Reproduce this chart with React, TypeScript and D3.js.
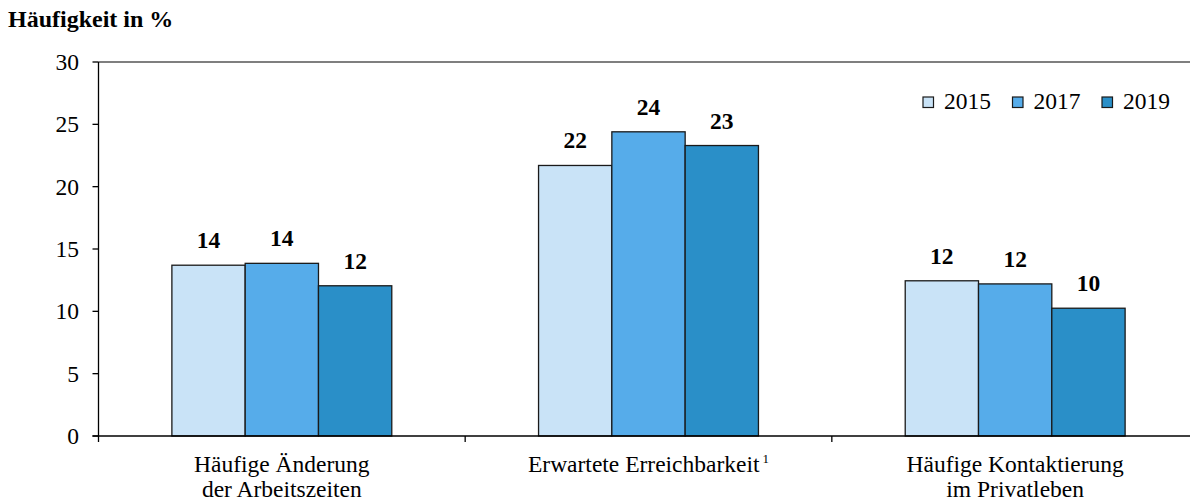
import React from "react";
import * as d3 from "d3";

const categories = [
  ["Häufige Änderung", "der Arbeitszeiten"],
  ["Erwartete Erreichbarkeit", ""],
  ["Häufige Kontaktierung", "im Privatleben"],
];
const years = ["2015", "2017", "2019"];
const values2015 = [13.7, 21.7, 12.45];
const values2017 = [13.85, 24.4, 12.2];
const values2019 = [12.05, 23.3, 10.25];
const labels2015 = ["14", "22", "12"];
const labels2017 = ["14", "24", "12"];
const labels2019 = ["12", "23", "10"];
const yTicks = [0, 5, 10, 15, 20, 25, 30];
const colors = ["#C9E3F7", "#56ACEA", "#2A8FC8"];

const series = [
  { year: years[0], values: values2015, labels: labels2015 },
  { year: years[1], values: values2017, labels: labels2017 },
  { year: years[2], values: values2019, labels: labels2019 },
];

const FONT = "'Liberation Serif', 'Times New Roman', serif";

export default function App() {
  const width = 1190;
  const height = 502;
  const x0 = 98.5;
  const x1 = 1198.5;
  const yTop = 62;
  const yBottom = 436;

  const y = d3.scaleLinear().domain([0, 30]).range([yBottom, yTop]);
  const xBand = d3
    .scaleBand<number>()
    .domain(categories.map((_, i) => i))
    .range([x0, x1])
    .paddingInner(0)
    .paddingOuter(0);
  const bw = xBand.bandwidth();
  const barW = 73.3;
  const inner = d3
    .scaleBand<number>()
    .domain([0, 1, 2])
    .range([0, barW * 3]);

  return (
    <svg
      width={width}
      height={height}
      style={{ position: "absolute", left: 0, top: 0, fontFamily: FONT }}
    >
      <text x={8} y={27} fontSize={24} fontWeight="bold" fill="#000">
        Häufigkeit in %
      </text>
      {/* top gridline */}
      <line x1={x0} x2={width} y1={y(30)} y2={y(30)} stroke="#555" strokeWidth={1.6} />
      {/* bars */}
      {categories.map((_, ci) => {
        const gx = (xBand(ci) as number) + bw / 2 - (barW * 3) / 2;
        return series.map((s, si) => {
          const bx = gx + (inner(si) as number);
          const by = y(s.values[ci]);
          return (
            <g key={`${ci}-${si}`}>
              <rect
                x={bx}
                y={by}
                width={barW}
                height={yBottom - by}
                fill={colors[si]}
                stroke="#1a1a1a"
                strokeWidth={1.3}
              />
              <text
                x={bx + barW / 2}
                y={by - 17}
                textAnchor="middle"
                fontSize={23.5}
                fontWeight="bold"
                fill="#000"
              >
                {s.labels[ci]}
              </text>
            </g>
          );
        });
      })}
      {/* y axis */}
      <line x1={x0} x2={x0} y1={yTop} y2={yBottom + 6} stroke="#000" strokeWidth={1.3} />
      {yTicks.map((t) => (
        <g key={t}>
          <line x1={x0 - 6} x2={x0} y1={y(t)} y2={y(t)} stroke="#000" strokeWidth={1.3} />
          <text x={79} y={y(t) + 8} textAnchor="end" fontSize={23.5} fill="#000">
            {t}
          </text>
        </g>
      ))}
      {/* x axis */}
      <line x1={x0 - 6} x2={width} y1={yBottom} y2={yBottom} stroke="#000" strokeWidth={1.3} />
      {categories.map((_, ci) => {
        const tx = (xBand(ci) as number) + bw;
        return (
          <line key={ci} x1={tx} x2={tx} y1={yBottom} y2={yBottom + 6} stroke="#000" strokeWidth={1.3} />
        );
      })}
      {categories.map((lines, ci) => {
        const cx = (xBand(ci) as number) + bw / 2;
        return (
          <text key={ci} x={cx} textAnchor="middle" fontSize={23.5} fill="#000">
            <tspan x={cx} y={472}>
              {lines[0]}
              {ci === 1 ? (
                <tspan fontSize={13} dy={-9} dx={3}>
                  1
                </tspan>
              ) : null}
            </tspan>
            {lines[1] ? (
              <tspan x={cx} y={497}>
                {lines[1]}
              </tspan>
            ) : null}
          </text>
        );
      })}
      {/* legend */}
      {series.map((s, si) => {
        const lx = 923 + si * 89.5;
        return (
          <g key={s.year}>
            <rect x={lx} y={97} width={10.5} height={10.5} fill={colors[si]} stroke="#1a1a1a" strokeWidth={1.2} />
            <text x={lx + 21} y={109} fontSize={23.5} fill="#000">
              {s.year}
            </text>
          </g>
        );
      })}
    </svg>
  );
}
